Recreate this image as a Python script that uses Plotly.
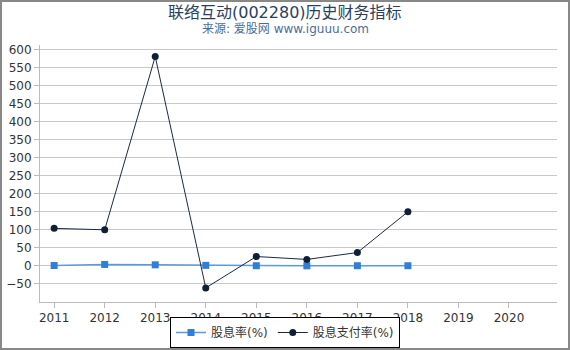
import plotly.graph_objects as go

years = [2011, 2012, 2013, 2014, 2015, 2016, 2017, 2018]
dividend_yield = [1.0, 4.0, 3.0, 1.5, 0.5, 0.2, 0.5, 0.5]
payout_ratio = [104, 100, 580, -61, 26, 18, 37, 150]
x_ticks = [2011, 2012, 2013, 2014, 2015, 2016, 2017, 2018, 2019, 2020]
y_ticks = [-50, 0, 50, 100, 150, 200, 250, 300, 350, 400, 450, 500, 550, 600]

fig = go.Figure()
fig.add_trace(go.Scatter(
    x=years, y=dividend_yield, name="股息率(%)", mode="lines+markers",
    line=dict(color="#5a9be0", width=1.5),
    marker=dict(symbol="square", size=7, color="#2f7fd6"),
))
fig.add_trace(go.Scatter(
    x=years, y=payout_ratio, name="股息支付率(%)", mode="lines+markers",
    line=dict(color="#1a2a44", width=1),
    marker=dict(symbol="circle", size=7, color="#0f1f35"),
))

font_family = "DejaVu Sans, Noto Sans CJK SC, sans-serif"
T, B, L, R = 45, 302, 40, 557
H = B - T
W = R - L

def py(p):
    return (B - p) / H

def px(p):
    return (p - L) / W

fig.update_layout(
    width=570, height=350,
    margin=dict(l=L, r=570 - R, t=T, b=350 - B, autoexpand=False),
    paper_bgcolor="white", plot_bgcolor="white",
    font=dict(family=font_family, size=12, color="#333333"),
    xaxis=dict(
        range=[2010.72, 2020.95], tickvals=x_ticks, ticktext=[str(t) for t in x_ticks],
        showgrid=False, showline=True, linecolor="#bbbbbb", linewidth=1,
        ticks="outside", ticklen=5, tickcolor="#bbbbbb", zeroline=False,
        tickfont=dict(size=12, color="#333333"),
    ),
    yaxis=dict(
        range=[-100, 612], tickvals=y_ticks,
        showgrid=True, gridcolor="#c8c8c8", gridwidth=1,
        showline=True, linecolor="#bbbbbb", linewidth=1,
        ticks="outside", ticklen=5, tickcolor="#bbbbbb", zeroline=False,
        tickfont=dict(size=12, color="#333333"),
    ),
    legend=dict(
        orientation="h", x=0.5, xanchor="center", xref="container",
        y=2 / 350, yanchor="bottom", yref="container",
        bordercolor="#000000", borderwidth=1, font=dict(size=12, color="#333333"),
        itemwidth=30, tracegroupgap=0,
    ),
    annotations=[
        dict(text="联络互动(002280)历史财务指标", xref="paper", yref="paper",
             x=px(285), y=py(12), xanchor="center", yanchor="middle", showarrow=False,
             font=dict(size=16, color="#2a3f5f")),
        dict(text="来源: 爱股网 www.iguuu.com", xref="paper", yref="paper",
             x=px(285), y=py(29), xanchor="center", yanchor="middle", showarrow=False,
             font=dict(size=12, color="#4a6d9c")),
    ],
    shapes=[dict(type="rect", xref="paper", yref="paper",
                 x0=px(1), x1=px(569), y0=py(349), y1=py(1),
                 line=dict(color="#888888", width=2))],
)
fig.write_html("out.html")
